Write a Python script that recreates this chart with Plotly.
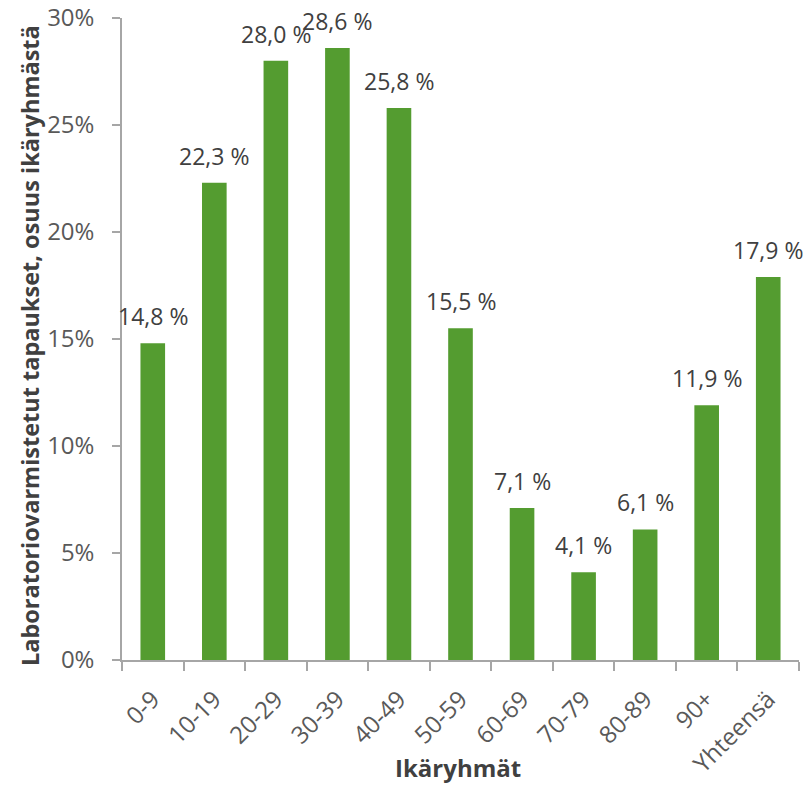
import plotly.graph_objects as go

# Age groups and share of laboratory-confirmed cases (%)
age_groups = ["0-9", "10-19", "20-29", "30-39", "40-49", "50-59",
              "60-69", "70-79", "80-89", "90+", "Yhteensä"]
share_pct = [14.8, 22.3, 28.0, 28.6, 25.8, 15.5, 7.1, 4.1, 6.1, 11.9, 17.9]
y_ticks = [0, 5, 10, 15, 20, 25, 30]

BAR_COLOR = "#549c30"
TEXT_COLOR = "#404040"
TICK_COLOR = "#595959"
AXIS_COLOR = "#a6a6a6"
FONT = "Open Sans, Noto Sans, sans-serif"

W, H = 806, 785
M_L, M_R, M_T, M_B = 122, 7, 18, 125


def fi_label(v):
    return f"{v:.1f}".replace(".", ",") + " %"


fig = go.Figure(
    go.Bar(
        x=age_groups,
        y=share_pct,
        marker=dict(color=BAR_COLOR, line=dict(width=0)),
        hoverinfo="skip",
    )
)

# Value labels above the bars (Finnish decimal comma)
for g, v in zip(age_groups, share_pct):
    fig.add_annotation(
        x=g, y=v, text=fi_label(v), showarrow=False,
        yanchor="bottom", yshift=9,
        font=dict(family=FONT, size=23, color=TEXT_COLOR),
    )

# Axis titles placed as paper annotations
fig.add_annotation(
    xref="paper", yref="paper", x=0.496, y=0, yshift=-107,
    xanchor="center", yanchor="middle", showarrow=False, borderpad=0,
    text="<b>Ikäryhmät</b>",
    font=dict(family=FONT, size=24, color=TEXT_COLOR),
)
fig.add_annotation(
    xref="paper", yref="paper", x=0, y=0.489, xshift=-92,
    xanchor="center", yanchor="middle", showarrow=False, textangle=-90,
    text="<b>Laboratoriovarmistetut tapaukset, osuus ikäryhmästä</b>",
    font=dict(family=FONT, size=23.5, color=TEXT_COLOR),
)

fig.update_layout(
    width=W, height=H,
    margin=dict(l=M_L, r=M_R, t=M_T, b=M_B),
    paper_bgcolor="white", plot_bgcolor="white",
    bargap=0.6,
    showlegend=False,
    font=dict(family=FONT, color=TEXT_COLOR),
    xaxis=dict(
        range=[-0.5, len(age_groups) - 0.5],
        showline=True, linecolor=AXIS_COLOR, linewidth=1.5,
        ticks="outside", tickson="boundaries", ticklen=9,
        tickcolor=AXIS_COLOR, tickwidth=1.5,
        tickangle=-45, tickfont=dict(size=24, color=TICK_COLOR),
        ticklabelstandoff=14,
        showgrid=False, fixedrange=True, automargin=False,
    ),
    yaxis=dict(
        range=[0, 30], tickvals=y_ticks,
        ticktext=[f"{t}%" for t in y_ticks],
        showline=True, linecolor=AXIS_COLOR, linewidth=1.5,
        ticks="outside", ticklen=8, tickcolor=AXIS_COLOR, tickwidth=1.5,
        tickfont=dict(size=24, color=TICK_COLOR),
        ticklabelstandoff=13,
        showgrid=False, zeroline=False, fixedrange=True, automargin=False,
    ),
)

fig.write_html("out.html")
